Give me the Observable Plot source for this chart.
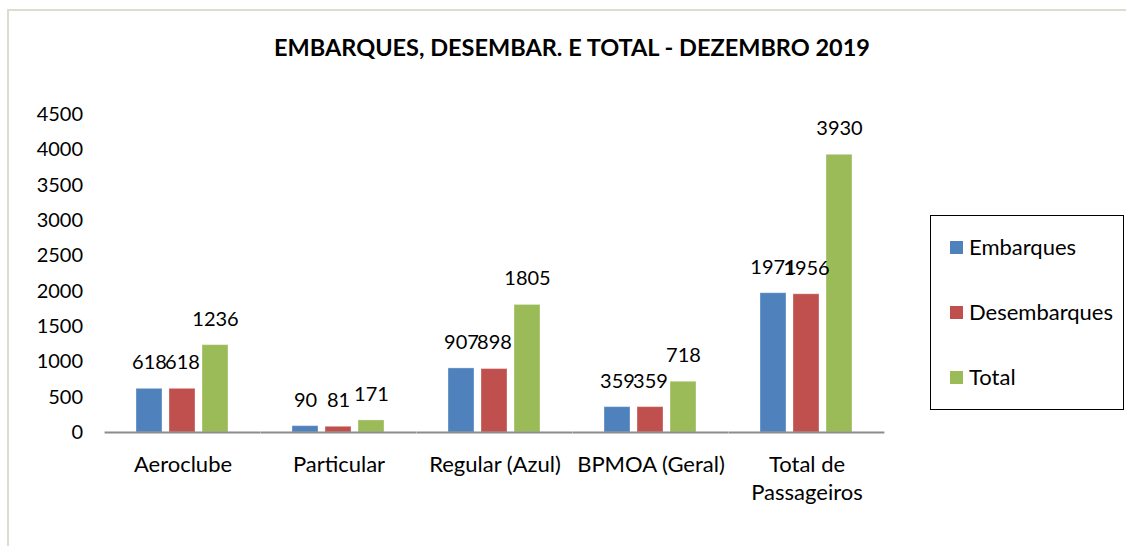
<!DOCTYPE html>
<html>
<head>
<meta charset="utf-8">
<script src="https://cdn.jsdelivr.net/npm/d3@7"></script>
<script src="https://cdn.jsdelivr.net/npm/@observablehq/plot@0.6"></script>
<style>
  html, body { margin: 0; padding: 0; background: #fff; }
  #wrap { position: relative; width: 1126px; height: 546px; overflow: hidden; font-family: Lato, "Noto Sans", sans-serif; }
  #frame { position: absolute; left: 7px; top: 9px; right: -5px; bottom: -5px; border-top: 2px solid #dcdccf; border-left: 2px solid #dcdccf; }
  #title { position: absolute; top: 32px; left: 572px; transform: translateX(-50%); white-space: nowrap; font-weight: bold; font-size: 23.5px; line-height: 30px; color: #000; }
  #chart { position: absolute; left: 0; top: 0; }
  #legend { position: absolute; left: 930px; top: 215px; width: 192px; height: 193px; border: 1px solid #000; background: #fff; }
  .item { position: absolute; left: 19px; display: flex; align-items: center; font-size: 22px; line-height: 28px; color: #000; }
  .sw { width: 13px; height: 13px; margin-right: 6px; }
</style>
</head>
<body>
<div id="wrap">
  <div id="frame"></div>
  <div id="title"></div>
  <div id="chart"></div>
  <div id="legend"></div>
</div>
<script>
const title = "EMBARQUES, DESEMBAR. E TOTAL - DEZEMBRO 2019";
const categories = ["Aeroclube", "Particular", "Regular (Azul)", "BPMOA (Geral)", "Total de\nPassageiros"];
const series = ["Embarques", "Desembarques", "Total"];
const embarques = [618, 90, 907, 359, 1971];
const desembarques = [618, 81, 898, 359, 1956];
const total = [1236, 171, 1805, 718, 3930];
const yTicks = [0, 500, 1000, 1500, 2000, 2500, 3000, 3500, 4000, 4500];
const colors = ["#4F81BD", "#C0504D", "#9BBB59"];

const values = [embarques, desembarques, total];
const rows = [];
categories.forEach((c, i) => {
  series.forEach((s, j) => rows.push({category: c, series: s, value: values[j][i]}));
});

document.getElementById("title").textContent = title;

const legend = document.getElementById("legend");
series.forEach((s, j) => {
  const item = document.createElement("div");
  item.className = "item";
  item.style.top = (17 + j * 65) + "px";
  const sw = document.createElement("div");
  sw.className = "sw";
  sw.style.background = colors[j];
  const label = document.createElement("span");
  label.textContent = s;
  item.appendChild(sw);
  item.appendChild(label);
  legend.appendChild(item);
});

const W = 1126, H = 546, mL = 105, mR = 241, mT = 114, mB = 114;
const fxPadInner = 0.39, fxPadOuter = fxPadInner / 2;
const fxStep = (W - mL - mR) / categories.length;
const gapHalf = fxStep * fxPadInner / 2;

const font = "Lato, 'Noto Sans', sans-serif";
const chart = Plot.plot({
  width: W,
  height: H,
  marginLeft: mL,
  marginRight: mR,
  marginTop: mT,
  marginBottom: mB,
  style: {fontFamily: font, fontSize: "20px", color: "#000", background: "transparent"},
  fx: {domain: categories, paddingInner: fxPadInner, paddingOuter: fxPadOuter, axis: null, label: null},
  x: {domain: series, paddingInner: 0.2, paddingOuter: 0, axis: null},
  y: {domain: [0, 4500], axis: null},
  color: {domain: series, range: colors},
  marks: [
    Plot.barY(rows, {fx: "category", x: "series", y: "value", fill: "series", stroke: "#ffffff", strokeOpacity: 0.35, strokeWidth: 1}),
    Plot.ruleY([0], {insetLeft: -gapHalf, insetRight: -gapHalf, stroke: "#8c8c8c", strokeWidth: 2}),
    Plot.axisY({ticks: yTicks, tickFormat: d => String(d), tickSize: 0, tickPadding: 22 + gapHalf, fontSize: 20, fill: "#000", label: null}),
    Plot.text(rows, {fx: "category", x: "series", y: "value", text: d => String(d.value), dy: -26, fontSize: 20, fill: "#000"}),
    Plot.text(categories, {fx: d => d, text: d => d, frameAnchor: "bottom", lineAnchor: "top", dy: 20, lineHeight: 1.27, fontSize: 22, fill: "#000"})
  ]
});
document.getElementById("chart").appendChild(chart);
</script>
</body>
</html>
